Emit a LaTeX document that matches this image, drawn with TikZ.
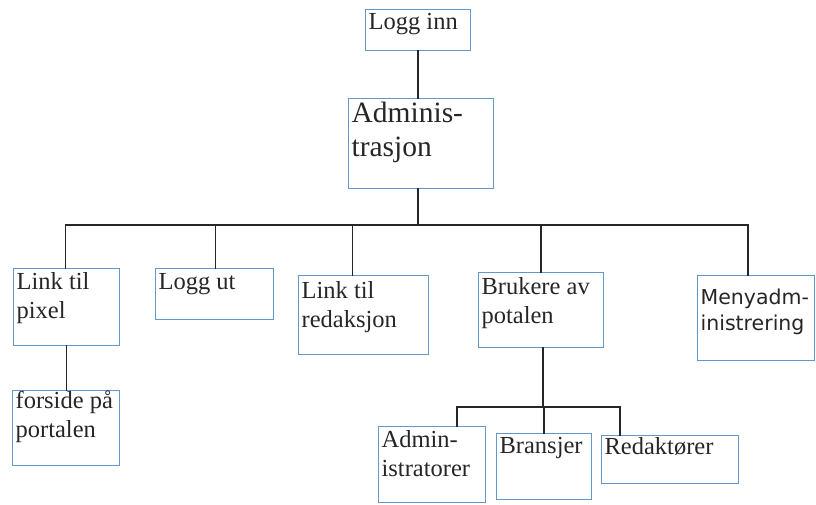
\documentclass[tikz,border=0pt]{standalone}
\usepackage{fontspec}
\setmainfont{Liberation Serif}
\newfontfamily\menyfont{DejaVu Sans}
\definecolor{boxblue}{RGB}{100,150,200}
% box text: width, height, first baseline, text
\newcommand{\boxtxt}[4]{\parbox[c][#2][t]{#1}{\raggedright\rule{0pt}{#3}#4}}

\begin{document}
\begin{tikzpicture}[x=1pt,y=-1pt,
  box/.style={draw=boxblue, line width=1.2pt, anchor=north west, inner xsep=3pt, inner ysep=0pt,
    text=black!85, font=\fontsize{24.5}{29}\selectfont},
  wire/.style={line width=1.6pt, black!85, line cap=rect}]

\useasboundingbox (0,0) rectangle (816,504);

\node[box] (login) at (365,9) {\boxtxt{99pt}{41pt}{20pt}{Logg inn}};
\node[box, font=\fontsize{29.5}{34}\selectfont] (admin) at (348,98) {\boxtxt{139pt}{90pt}{24pt}{Adminis-\\trasjon}};

\node[box] (pixel) at (13,268) {\boxtxt{100pt}{77pt}{21pt}{Link til\\pixel}};
\node[box] (loggut) at (155,268) {\boxtxt{112pt}{51pt}{21pt}{Logg ut}};
\node[box] (redak) at (298,275) {\boxtxt{124pt}{79pt}{23pt}{Link til\\redaksjon}};
\node[box] (brukere) at (478,272) {\boxtxt{119pt}{75pt}{22pt}{Brukere av\\potalen}};
\node[box, font=\menyfont\fontsize{20.5}{26}\selectfont] (meny) at (697,275) {\boxtxt{111pt}{85pt}{29pt}{Menyadm-\\inistrering}};

\node[box] (forside) at (12,390) {\boxtxt{101pt}{75pt}{18pt}{forside på\\portalen}};
\node[box] (admins) at (378,426) {\boxtxt{101pt}{76pt}{21pt}{Admin-\\istratorer}};
\node[box] (bransjer) at (496,433) {\boxtxt{89pt}{66pt}{20pt}{Bransjer}};
\node[box] (redaktorer) at (601,435) {\boxtxt{131pt}{48pt}{19pt}{Redaktører}};

\coordinate (bus) at (0,225);
\coordinate (subbus) at (0,407);

\draw[wire] (login.south) -- (login.south |- admin.north);
\draw[wire] ([xshift=-3pt]admin.south) -- ([xshift=-3pt]admin.south |- bus);
\draw[wire] ([xshift=-1pt]pixel.north |- bus) -- ([xshift=-8pt]meny.north |- bus);
\foreach \n/\dx in {pixel/-1, loggut/1, redak/-11, brukere/0, meny/-8}
  \draw[wire] ([xshift=\dx pt]\n.north |- bus) -- ([xshift=\dx pt]\n.north);

\draw[wire] (pixel.south) -- (pixel.south |- forside.north);

\draw[wire] ([xshift=2pt]brukere.south) -- ([xshift=2pt]brukere.south |- subbus);
\draw[wire] ([xshift=25pt]admins.north |- subbus) -- ([xshift=-50pt]redaktorer.north |- subbus);
\foreach \n/\dx in {admins/25, bransjer/0, redaktorer/-50}
  \draw[wire] ([xshift=\dx pt]\n.north |- subbus) -- ([xshift=\dx pt]\n.north);

\end{tikzpicture}
\end{document}
